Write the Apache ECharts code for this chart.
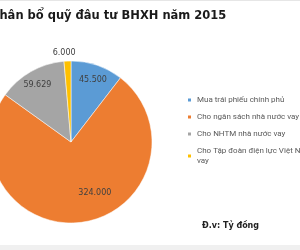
<!DOCTYPE html>
<html><head><meta charset="utf-8">
<script src="https://cdn.jsdelivr.net/npm/echarts@6/dist/echarts.min.js"></script>
<style>html,body{margin:0;padding:0;background:#fff}#c{width:300px;height:250px}</style>
</head><body><div id="c"></div>
<script>
const categories = ['Mua trái phiếu chính phủ', 'Cho ngân sách nhà nước vay', 'Cho NHTM nhà nước vay', 'Cho Tập đoàn điện lực Việt Nam vay'];
const values = [45500, 324000, 59629, 6000];
const colors = ['#5B9BD5', '#ED7D31', '#A5A5A5', '#FFC000'];
const legendLabels = ['Mua trái phiếu chính phủ', 'Cho ngân sách nhà nước vay', 'Cho NHTM nhà nước vay', 'Cho Tập đoàn điện lực Việt Nam\nvay'];
const titleText = 'Phân bổ quỹ đâu tư BHXH năm 2015';
const unitText = 'Đ.v: Tỷ đồng';

function fmt(v){ return String(v).replace(/\B(?=(\d{3})+(?!\d))/g, '.'); }

const chart = echarts.init(document.getElementById('c'), null, {renderer:'canvas'});
const data = categories.map((n,i)=>({name:n, value:values[i], itemStyle:{color:colors[i]}}));
const labelData = categories.map((n,i)=>({name:n, value:values[i],
  label: i===3 ? {show:false} : (i===1 ? {offset:[14,-16]} : {offset:[0,2]})}));
const outerLabelData = categories.map((n,i)=>({name:n, value:values[i], label:{show:i===3, offset:[-3,0]}}));
const lblStyle = {show:true, position:'inside', formatter:function(p){return fmt(p.value);}, fontFamily:'DejaVu Sans', fontSize:8, color:'#404040'};
chart.setOption({
  animation:false,
  graphic:[
    {type:'rect', shape:{x:0,y:0,width:300,height:1}, style:{fill:'#e6e6e6'}, silent:true},
    {type:'rect', shape:{x:0,y:245,width:300,height:5}, style:{fill:'#f0f0f0'}, silent:true},
    {type:'text', x:-9, y:16, style:{text:titleText, font:'bold 11.5px "DejaVu Sans"', fill:'#1a1a1a', textVerticalAlign:'middle'}},
    {type:'text', x:202, y:226, style:{text:unitText, font:'bold 8px "DejaVu Sans"', fill:'#222', textVerticalAlign:'middle'}}
  ],
  legend:{orient:'vertical', left:181, top:90, icon:'rect', itemWidth:5, itemHeight:5, itemGap:7,
    data:categories,
    formatter:function(n){ return legendLabels[categories.indexOf(n)]; },
    textStyle:{fontFamily:'Liberation Sans Narrow, Roboto', fontSize:8, color:'#595959', lineHeight:10}},
  series:[
    {type:'pie', center:[71,142], radius:[0,81], startAngle:90, clockwise:true,
     data:data, label:{show:false}, labelLine:{show:false},
     itemStyle:{borderColor:'#fff', borderWidth:0.5}},
    {type:'pie', center:[71,142], radius:[49,81], startAngle:90, clockwise:true, silent:true,
     data:labelData, itemStyle:{color:'rgba(0,0,0,0)'}, label:lblStyle, labelLine:{show:false}},
    {type:'pie', center:[71,142], radius:[81,92], startAngle:90, clockwise:true, silent:true,
     data:outerLabelData, itemStyle:{color:'rgba(0,0,0,0)'}, label:lblStyle, labelLine:{show:false}}
  ]
});
</script></body></html>
